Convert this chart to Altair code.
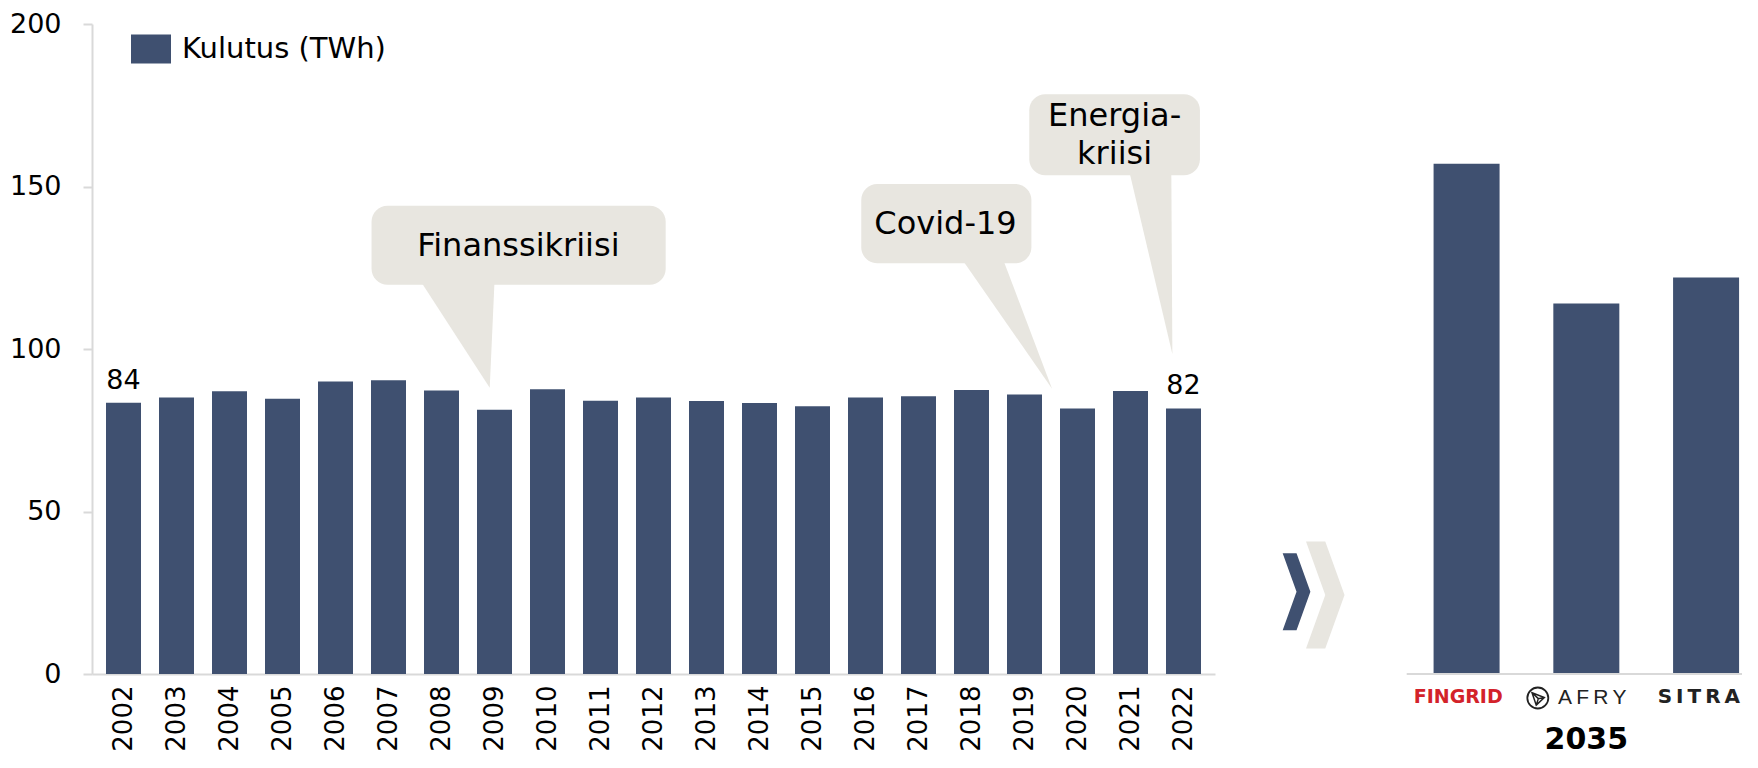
import altair as alt
import pandas as pd

# ---------------- data ----------------
years = list(range(2002, 2023))
consumption = [83.5, 85.1, 87.0, 84.7, 90.0, 90.4, 87.2, 81.3, 87.6, 84.1, 85.1,
               84.0, 83.4, 82.4, 85.1, 85.5, 87.4, 86.0, 81.7, 87.1, 81.7]
labelled_years = [2002, 2022]
series_name = "Kulutus (TWh)"

scenario_names = ["FINGRID", "AFRY", "SITRA"]
scenario_values = [157, 114, 122]
scenario_year = "2035"

# callout annotations (data units: year / TWh)
callout_names = ["Finanssikriisi", "Covid-19", "Energiakriisi"]
box_x0 = [2006.68, 2015.92, 2019.09]
box_x1 = [2012.23, 2019.13, 2022.31]
box_y0 = [119.8, 126.4, 153.5]
box_y1 = [144.1, 150.8, 178.4]
ptr_x0 = [2007.61, 2017.83, 2020.98]
ptr_x1 = [2009.00, 2018.60, 2021.77]
ptr_tip_x = [2008.91, 2019.52, 2021.79]
ptr_tip_y = [88.1, 87.8, 98.5]
callout_lines = [["Finanssikriisi"], ["Covid-19"], ["Energia-", "kriisi"]]
callout_text_x = [2009.45, 2017.51, 2020.70]
callout_text_y = [[131.6], [138.6], [171.6, 159.9]]

# ---------------- style ----------------
FONT = "DejaVu Sans"
NAVY = "#3F5070"
BEIGE = "#E8E6E0"
GREY = "#D9D9D9"
H = 650
LEFT_W = 1123
RIGHT_W = 489

bars_df = pd.DataFrame({"year": years, "value": consumption,
                        "series": [series_name] * len(years)})
boxes_df = pd.DataFrame({"callout": callout_names, "x0": box_x0, "x1": box_x1,
                         "y0": box_y0, "y1": box_y1})
ptr_rows = []
for i, n in enumerate(callout_names):
    ptr_rows.append({"callout": n, "py": box_y0[i] + 1.0, "px0": ptr_x0[i], "px1": ptr_x1[i]})
    ptr_rows.append({"callout": n, "py": ptr_tip_y[i], "px0": ptr_tip_x[i], "px1": ptr_tip_x[i]})
ptr_df = pd.DataFrame(ptr_rows)
txt_rows = []
for i, n in enumerate(callout_names):
    for line, yy in zip(callout_lines[i], callout_text_y[i]):
        txt_rows.append({"callout": n, "line": line, "tx": callout_text_x[i], "ty": yy})
txt_df = pd.DataFrame(txt_rows)

xl_scale = alt.Scale(domain=[2001.5, 2022.5], nice=False, zero=False)
y_scale = alt.Scale(domain=[0, 200], nice=False, zero=True)

legend = alt.Legend(
    title=None, orient="none", legendX=39, legendY=5, padding=0,
    symbolType="M-1,-0.72L1,-0.72L1,0.72L-1,0.72Z", symbolSize=1600,
    symbolStrokeWidth=0, symbolOpacity=1, labelFontSize=29, labelFont=FONT,
    labelColor="black", labelOffset=11, labelLimit=0,
)

boxes = alt.Chart(boxes_df).mark_rect(color=BEIGE, cornerRadius=16).encode(
    x=alt.X("x0:Q", scale=xl_scale, title=None,
            axis=alt.Axis(values=years, format="d", labelAngle=270, ticks=False,
                          domainColor=GREY, domainWidth=2, labelFontSize=26,
                          labelPadding=11, labelColor="black", grid=False,
                          labelOverlap=False, labelFont=FONT, labelFlush=False)),
    x2="x1:Q",
    y=alt.Y("y0:Q", scale=y_scale, title=None,
            axis=alt.Axis(values=[0, 50, 100, 150, 200], tickSize=9, tickColor=GREY,
                          tickWidth=2, domainColor=GREY, domainWidth=2, labelFontSize=27,
                          labelPadding=22, labelColor="black", grid=False, labelFont=FONT)),
    y2="y1:Q",
)

pointers = alt.Chart(ptr_df).mark_area(color=BEIGE, orient="horizontal", opacity=1).encode(
    y=alt.Y("py:Q", title=None),
    x=alt.X("px0:Q", title=None),
    x2="px1:Q",
    detail="callout:N",
)

callout_text = alt.Chart(txt_df).mark_text(fontSize=32, font=FONT, color="black",
                                           baseline="middle", align="center").encode(
    x=alt.X("tx:Q", title=None),
    y=alt.Y("ty:Q", title=None),
    text="line:N",
)

bars = alt.Chart(bars_df).mark_bar(size=35).encode(
    x=alt.X("year:Q", title=None),
    y=alt.Y("value:Q", title=None),
    color=alt.Color("series:N", scale=alt.Scale(range=[NAVY]), legend=legend),
)

value_labels = alt.Chart(bars_df).transform_filter(
    alt.FieldOneOfPredicate(field="year", oneOf=labelled_years)
).mark_text(baseline="bottom", dy=-8, fontSize=27, font=FONT, color="black").encode(
    x=alt.X("year:Q", title=None),
    y=alt.Y("value:Q", title=None),
    text=alt.Text("value:Q", format=".0f"),
)

left = alt.layer(boxes, pointers, callout_text, bars, value_labels).properties(
    width=LEFT_W, height=H)

# ---------------- right panel ----------------
xr_scale = alt.Scale(domain=[-1.7, 2.3], nice=False, zero=False)
right_df = pd.DataFrame({"name": scenario_names, "value": scenario_values,
                         "pos": list(range(len(scenario_names)))})
logo_text = ["FINGRID", "A\u2009F\u2009R\u2009Y", "S\u2009I\u2009T\u2009R\u2009A"]
right_df["logo"] = logo_text

chev_df = pd.DataFrame({"cx": [-1.18, -1.42], "cy": [24.3, 25.3],
                        "col": [BEIGE, NAVY], "sz": [11449, 5929]})
CHEVRON = "M-0.36,-1L0,-1L0.36,0L0,1L-0.36,1L0,0Z"

chevrons = alt.Chart(chev_df).mark_point(shape=CHEVRON, filled=True, opacity=1,
                                         strokeWidth=0).encode(
    x=alt.X("cx:Q", scale=xr_scale, axis=None),
    y=alt.Y("cy:Q", scale=y_scale, axis=None),
    color=alt.Color("col:N", scale=None),
    size=alt.Size("sz:Q", scale=None),
)

rbars = alt.Chart(right_df).mark_bar(size=66, color=NAVY).encode(
    x=alt.X("pos:Q", axis=None),
    y=alt.Y("value:Q", axis=None),
)

base_df = pd.DataFrame({"x0": [-0.5], "x1": [2.3], "y": [0]})
baseline = alt.Chart(base_df).mark_rule(color=GREY, strokeWidth=2).encode(
    x=alt.X("x0:Q", axis=None), x2="x1:Q", y=alt.Y("y:Q", axis=None))

fingrid = alt.Chart(right_df).transform_filter(alt.datum.name == "FINGRID").transform_calculate(
    tx="datum.pos - 0.07").mark_text(
    dy=23, fontSize=19, fontWeight="bold", font=FONT, color="#D3222A").encode(
    x=alt.X("tx:Q", axis=None), y=alt.datum(0), text="logo:N")

afry = alt.Chart(right_df).transform_filter(alt.datum.name == "AFRY").transform_calculate(
    tx="datum.pos + 0.05").mark_text(
    dy=24, fontSize=21, font="Liberation Sans", color="#222222").encode(
    x=alt.X("tx:Q", axis=None), y=alt.datum(0), text="logo:N")

afry_ring = alt.Chart(right_df).transform_filter(alt.datum.name == "AFRY").transform_calculate(
    ix="datum.pos - 0.405").mark_point(shape="circle", filled=False, size=441,
                                       strokeWidth=1.8, color="#222222", opacity=1).encode(
    x=alt.X("ix:Q", axis=None), y=alt.datum(0), yOffset=alt.value(24))

afry_plane = alt.Chart(right_df).transform_filter(alt.datum.name == "AFRY").transform_calculate(
    ix="datum.pos - 0.405").mark_point(
    shape="M-0.55,-0.5L0.62,-0.05L-0.15,0.68Z M-0.55,-0.5L0.05,0.06L0.62,-0.05 M0.05,0.06L-0.15,0.68",
    filled=False, size=441, strokeWidth=1.5, color="#222222", opacity=1).encode(
    x=alt.X("ix:Q", axis=None), y=alt.datum(0), yOffset=alt.value(24))

sitra = alt.Chart(right_df).transform_filter(alt.datum.name == "SITRA").transform_calculate(
    tx="datum.pos - 0.06").mark_text(
    dy=23, fontSize=20, fontWeight="bold", font=FONT, color="#222222").encode(
    x=alt.X("tx:Q", axis=None), y=alt.datum(0), text="logo:N")

year_df = pd.DataFrame({"label": [scenario_year], "pos": [1]})
year_text = alt.Chart(year_df).mark_text(dy=66, fontSize=30, fontWeight="bold",
                                         font=FONT, color="black").encode(
    x=alt.X("pos:Q", axis=None), y=alt.datum(0), text="label:N")

right = alt.layer(chevrons, rbars, baseline, fingrid, afry_ring, afry_plane, afry,
                  sitra, year_text).properties(width=RIGHT_W, height=H)

chart = alt.hconcat(left, right, spacing=43, bounds="flush").properties(
    padding={"left": 1, "top": 2, "right": 0, "bottom": 0}
).configure(font=FONT).configure_view(strokeWidth=0, stroke="transparent")

chart.save("out.html", embed_options={"renderer": "svg", "actions": False})
